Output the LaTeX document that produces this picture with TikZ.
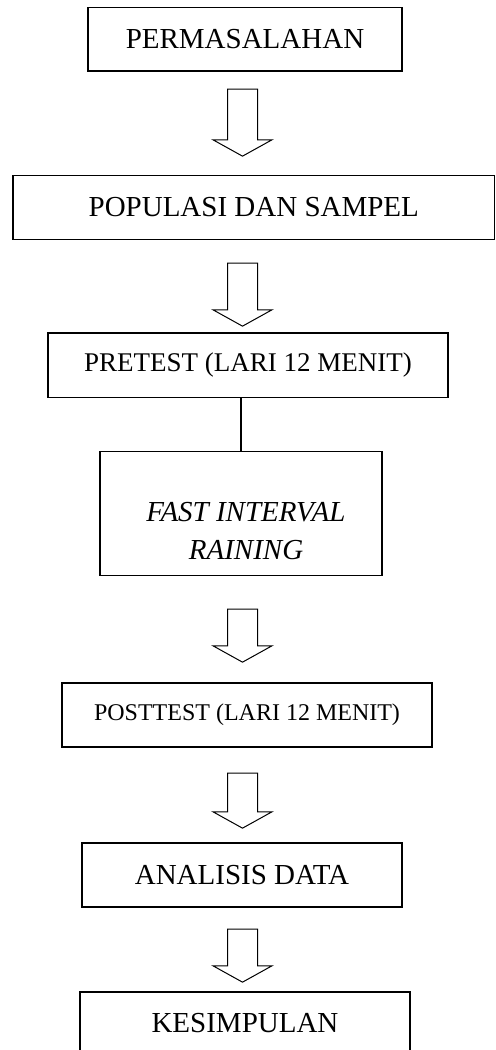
\documentclass[tikz,border=0pt]{standalone}
\usepackage{fontspec}
\setmainfont{Liberation Serif}
\usetikzlibrary{shapes.arrows}
\newcommand{\boxfont}{\fontsize{14.5}{19}\selectfont}
\tikzset{
    stage/.style={
        rectangle,
        draw=black,
        fill=white,
        line width=0.65pt,
        inner sep=0pt,
        font=\boxfont
    },
    down/.style={
        single arrow,
        draw=black,
        fill=white,
        line width=0.5pt,
        rotate=-90,
        inner xsep=0pt,
        inner ysep=7.25pt,
        single arrow head extend=7.25pt,
        single arrow tip angle=122
    },
    link/.style={line width=0.7pt}
}

\begin{document}
\begin{tikzpicture}[x=0.5pt,y=-0.5pt]
\useasboundingbox (0,0) rectangle (496,1050);

% Stages of the study
\node[stage, minimum width=157pt, minimum height=31.65pt] (perm) at (245,39.3) {PERMASALAHAN};
\node[stage, minimum width=240.75pt, minimum height=31.9pt] (pop) at (253.8,207.4) {POPULASI DAN SAMPEL};
\node[stage, minimum width=200pt, minimum height=32.25pt, font=\fontsize{13.5}{16}\selectfont] (pre) at (248,365.3) {PRETEST (LARI 12 MENIT)};
\node[stage, minimum width=141pt, minimum height=62pt] (fit) at (241,513.7) {};
\node[font=\boxfont\itshape, align=center, inner sep=0pt] (fitlbl) at (246,531) {FAST INTERVAL\\RAINING};
\node[stage, minimum width=185pt, minimum height=32pt, font=\fontsize{12}{15}\selectfont] (post) at (247,715) {POSTTEST (LARI 12 MENIT)};
\node[stage, minimum width=160pt, minimum height=32pt] (anal) at (242,875) {ANALISIS DATA};
\node[stage, minimum width=165pt, minimum height=31pt] (kes) at (245,1023) {KESIMPULAN};

% Block arrows between stages
\node[down, minimum height=33.5pt] (a1) at (242.5,118.5) {};
\node[down, minimum height=31.5pt] (a2) at (242.5,290.5) {};
\node[down, minimum height=26.5pt] (a3) at (242.5,631.5) {};
\node[down, minimum height=27.5pt] (a4) at (242.5,796.5) {};
\node[down, minimum height=26.5pt] (a5) at (242.5,951.5) {};

% Pretest goes straight into the training
\draw[link] (pre.south -| fit.north) -- (fit.north);

\end{tikzpicture}
\end{document}
